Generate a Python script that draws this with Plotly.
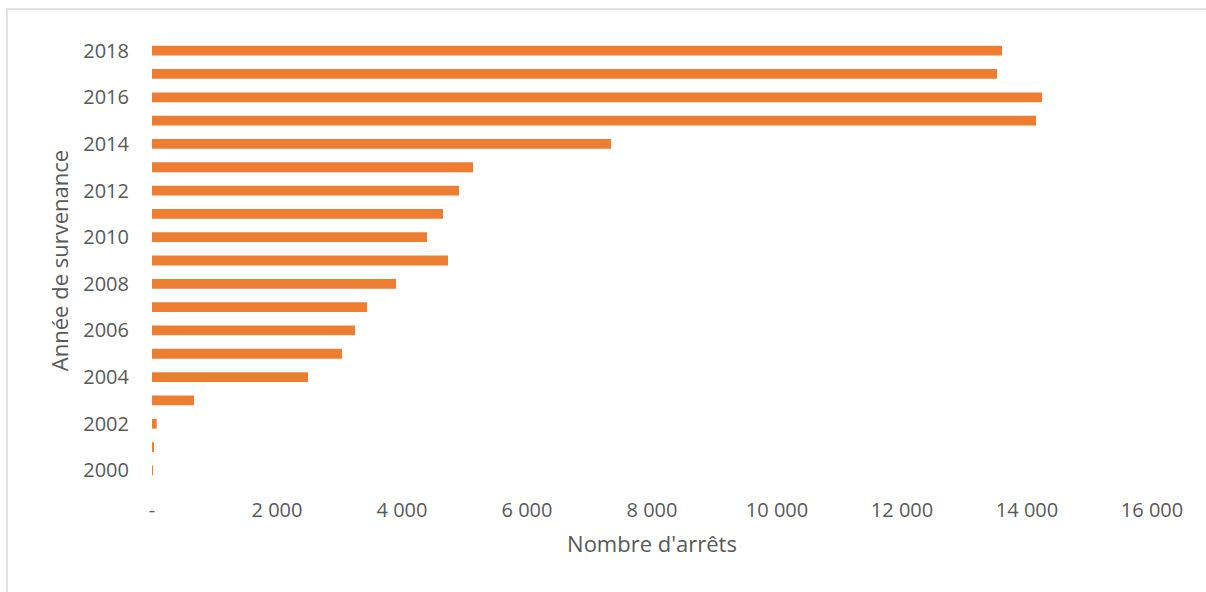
import plotly.graph_objects as go

years = [str(y) for y in range(2000, 2019)]
values = [3, 30, 75, 672, 2496, 3040, 3248, 3440, 3904, 4736, 4400, 4656, 4912, 5136, 7344, 14144, 14240, 13520, 13600]
x_tickvals = [0, 2000, 4000, 6000, 8000, 10000, 12000, 14000, 16000]
x_ticktext = ["-", "2 000", "4 000", "6 000", "8 000", "10 000", "12 000", "14 000", "16 000"]
y_ticks = [str(y) for y in range(2000, 2019, 2)]

FONT = "Open Sans"
GRAY = "#595959"

fig = go.Figure(go.Bar(
    y=years, x=values, orientation="h",
    marker=dict(color="#ED7D31", line=dict(width=0)),
    width=0.42,
))

fig.update_layout(
    width=1206, height=592,
    margin=dict(l=152, r=54, t=39, b=110),
    paper_bgcolor="white", plot_bgcolor="white",
    font=dict(family=FONT, color=GRAY, size=20),
    showlegend=False,
    xaxis=dict(
        range=[0, 16000], tickvals=x_tickvals, ticktext=x_ticktext,
        showgrid=False, zeroline=False, showline=False, ticks="",
        ticklabelstandoff=14,
        tickfont=dict(size=20, color=GRAY, family=FONT),
        title=dict(text="Nombre d'arrêts", font=dict(size=22, color=GRAY, family=FONT), standoff=14),
    ),
    yaxis=dict(
        type="category", categoryorder="array", categoryarray=years,
        range=[-0.5, 18.5],
        tickvals=y_ticks, ticktext=y_ticks,
        showgrid=False, zeroline=False, showline=False, ticks="",
        ticklabelstandoff=22,
        tickfont=dict(size=20, color=GRAY, family=FONT),
        title=dict(text="Année de survenance", font=dict(size=22, color=GRAY, family=FONT), standoff=8),
    ),
    shapes=[dict(type="rect", xref="paper", yref="paper",
                 x0=(7 - 152) / 1000, x1=(1215 - 152) / 1000,
                 y0=(482 - 600) / 443, y1=(482 - 9) / 443,
                 line=dict(color="#D9D9D9", width=1.5), fillcolor="rgba(0,0,0,0)", layer="below")],
)

fig.write_html("out.html", config={"displayModeBar": False},
               post_script="document.body.style.margin='0';document.body.style.overflow='hidden';")
